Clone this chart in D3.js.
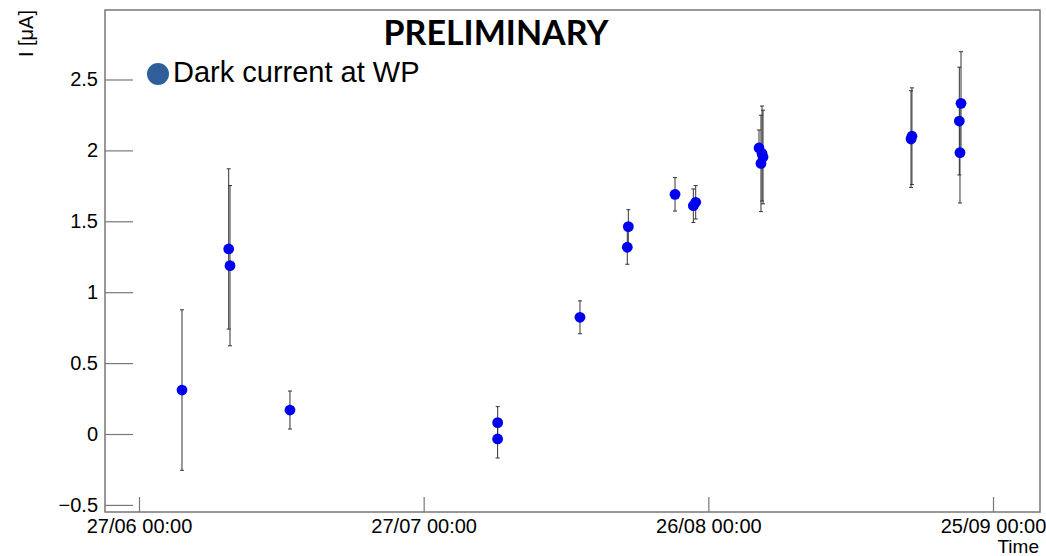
<!DOCTYPE html>
<html>
<head>
<meta charset="utf-8">
<script src="https://cdn.jsdelivr.net/npm/d3@7"></script>
<style>
  body { margin: 0; background: #fff; }
  svg { display: block; font-family: "Liberation Sans", Arial, sans-serif; }
</style>
</head>
<body>
<div id="chart"></div>
<script>
// measurement times (UTC), dark current [uA] and its error
var times = [
  "2023-07-01T12:45", "2023-07-06T10:50", "2023-07-06T14:10", "2023-07-12T21:50",
  "2023-08-03T19:12", "2023-08-03T19:00", "2023-08-12T11:20", "2023-08-17T11:00",
  "2023-08-17T13:40", "2023-08-22T11:45", "2023-08-24T10:05", "2023-08-24T16:05",
  "2023-08-31T08:10", "2023-08-31T15:50", "2023-08-31T18:20", "2023-08-31T13:10",
  "2023-09-16T08:40", "2023-09-16T11:00", "2023-09-21T10:50", "2023-09-21T15:05",
  "2023-09-21T12:30"
];
var current = [
  0.31, 1.305, 1.187, 0.169,
  0.080, -0.035, 0.823, 1.317,
  1.462, 1.690, 1.610, 1.634,
  2.017, 1.978, 1.953, 1.908,
  2.080, 2.100, 2.207, 2.332,
  1.984
];
var currentErr = [
  0.566, 0.565, 0.565, 0.134,
  0.113, 0.134, 0.116, 0.120,
  0.120, 0.118, 0.118, 0.118,
  0.127, 0.335, 0.330, 0.340,
  0.341, 0.341, 0.380, 0.364,
  0.355
];

var yMajorTicks = [-0.5, 0, 0.5, 1, 1.5, 2, 2.5];
var xMajorTicks = ["2023-06-27T00:00", "2023-07-27T00:00", "2023-08-26T00:00", "2023-09-25T00:00"];
var xDomain = ["2023-06-23T10:00", "2023-09-29T22:53"];
var yDomain = [-0.55, 2.99];

var parse = d3.utcParse("%Y-%m-%dT%H:%M");

var W = 1046, H = 556;
var frame = {left: 105, right: 1040, top: 10, bottom: 512};

var svg = d3.select("#chart").append("svg")
  .attr("width", W)
  .attr("height", H);

var x = d3.scaleUtc()
  .domain(xDomain.map(parse))
  .range([frame.left, frame.right]);

var y = d3.scaleLinear()
  .domain(yDomain)
  .range([frame.bottom, frame.top]);

// minor ticks: every 0.1 on y, every 10 days on x
var yMinor = d3.range(-5, 30).map(function(i) { return i / 10; })
  .filter(function(v) { return v >= yDomain[0] && v <= yDomain[1]; });
var xMinor = d3.utcDay.every(10).range(parse(xMajorTicks[0]), d3.utcDay.offset(parse(xMajorTicks[3]), 1));

var axisColor = "#777";

var gy = svg.append("g").attr("transform", "translate(" + frame.left + ",0)");
gy.call(d3.axisLeft(y).tickValues(yMinor).tickSize(-14).tickFormat(""));
gy.call(d3.axisLeft(y).tickValues(yMajorTicks).tickSize(-28).tickPadding(7)
  .tickFormat(d3.format("~g")));

var gx = svg.append("g").attr("transform", "translate(0," + frame.bottom + ")");
gx.call(d3.axisBottom(x).tickValues(xMinor).tickSize(-8).tickFormat(""));
gx.call(d3.axisBottom(x).tickValues(xMajorTicks.map(parse)).tickSize(-15).tickPadding(7)
  .tickFormat(d3.utcFormat("%d/%m %H:%M")));

svg.selectAll(".domain").remove();
svg.selectAll(".tick line").attr("stroke", axisColor).attr("stroke-width", 1.2);
svg.selectAll(".tick text")
  .attr("fill", "#000")
  .style("font-size", "20px")
  .style("font-family", "'Liberation Sans', Arial, sans-serif");

// frame
svg.append("rect")
  .attr("x", frame.left)
  .attr("y", frame.top)
  .attr("width", frame.right - frame.left)
  .attr("height", frame.bottom - frame.top)
  .attr("fill", "none")
  .attr("stroke", axisColor)
  .attr("stroke-width", 1.5);

// axis titles
svg.append("text")
  .attr("transform", "translate(33," + frame.top + ") rotate(-90)")
  .attr("text-anchor", "end")
  .style("font-size", "20px")
  .text("I [\u03bcA]");

svg.append("text")
  .attr("x", frame.right - 1)
  .attr("y", 553)
  .attr("text-anchor", "end")
  .style("font-size", "19px")
  .text("Time");

// data
var points = times.map(function(t, i) {
  return {t: parse(t), v: current[i], e: currentErr[i]};
});

var errs = svg.append("g")
  .attr("stroke", "#333")
  .attr("stroke-width", 1);

errs.selectAll(".bar").data(points).enter().append("line")
  .attr("x1", function(d) { return x(d.t); })
  .attr("x2", function(d) { return x(d.t); })
  .attr("y1", function(d) { return y(d.v + d.e); })
  .attr("y2", function(d) { return y(d.v - d.e); });

errs.selectAll(".capTop").data(points).enter().append("line")
  .attr("x1", function(d) { return x(d.t) - 2; })
  .attr("x2", function(d) { return x(d.t) + 2; })
  .attr("y1", function(d) { return y(d.v + d.e); })
  .attr("y2", function(d) { return y(d.v + d.e); });

errs.selectAll(".capBot").data(points).enter().append("line")
  .attr("x1", function(d) { return x(d.t) - 2; })
  .attr("x2", function(d) { return x(d.t) + 2; })
  .attr("y1", function(d) { return y(d.v - d.e); })
  .attr("y2", function(d) { return y(d.v - d.e); });

svg.append("g").selectAll("circle").data(points).enter().append("circle")
  .attr("cx", function(d) { return x(d.t); })
  .attr("cy", function(d) { return y(d.v); })
  .attr("r", 5.4)
  .attr("fill", "#0000f0");

// legend
svg.append("circle")
  .attr("cx", 158)
  .attr("cy", 74)
  .attr("r", 11)
  .attr("fill", "#2f5f9a");

svg.append("text")
  .attr("x", 173)
  .attr("y", 82)
  .style("font-size", "29px")
  .text("Dark current at WP");

svg.append("text")
  .attr("x", 496)
  .attr("y", 45)
  .attr("text-anchor", "middle")
  .style("font-family", "Lato, sans-serif")
  .style("font-weight", "bold")
  .style("font-size", "34px")
  .text("PRELIMINARY");
</script>
</body>
</html>
